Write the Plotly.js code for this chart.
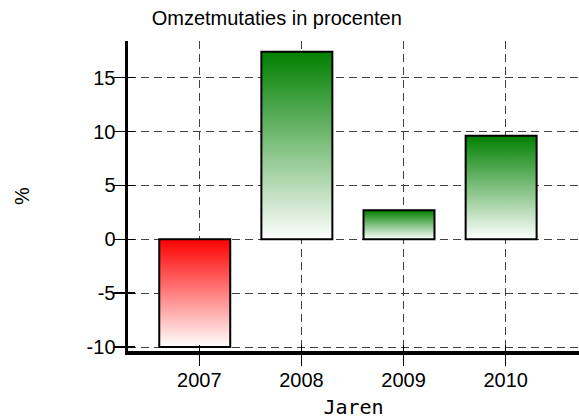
<!DOCTYPE html>
<html>
<head>
<meta charset="utf-8">
<script src="https://cdn.plot.ly/plotly-3.0.1.min.js"></script>
<style>
html,body{margin:0;padding:0;background:#fff;}
#chart{width:579px;height:419px;}
</style>
</head>
<body>
<div id="chart"></div>
<script>
const years = ['2007', '2008', '2009', '2010'];
const changes = [-10.0, 17.42, 2.70, 9.61];
const yTickVals = [-10, -5, 0, 5, 10, 15];
const yTickText = ['-10', '-5', '0', '5', '10', '15'];
const chartTitle = 'Omzetmutaties in procenten';
const xTitle = 'Jaren';
const yTitle = '%';

const topColors = changes.map(v => v < 0 ? '#ff0000' : '#008000');
const xIdx = years.map((_, i) => i);

const trace = {
  type: 'bar',
  x: xIdx,
  y: changes,
  width: 0.695,
  offset: -0.392,
  marker: {color: topColors, line: {color: '#000', width: 2}},
  hoverinfo: 'skip'
};
// helper (empty) trace so the overlay axes carrying the inner tick halves exist
const overlay = {type: 'scatter', x: [], y: [], xaxis: 'x2', yaxis: 'y2', hoverinfo: 'skip'};

const xRange = [-0.698, 3.718];
const yRange = [-10.37, 18.41];
const dash = '8px,5px';

const layout = {
  width: 579, height: 419,
  margin: {l: 128, r: 0, t: 41, b: 68},
  paper_bgcolor: '#fff', plot_bgcolor: '#fff',
  font: {family: 'Liberation Sans, Arial, sans-serif', size: 20, color: '#000'},
  showlegend: false,
  title: {text: chartTitle, x: 0.478, xanchor: 'center', y: 0.957, yanchor: 'middle',
          font: {size: 20, color: '#000'}},
  xaxis: {
    range: xRange,
    tickmode: 'array', tickvals: xIdx, ticktext: years,
    ticks: 'outside', ticklen: 11, tickwidth: 1.5, tickcolor: '#000',
    ticklabelstandoff: -3,
    showline: true, linewidth: 3.5, linecolor: '#000',
    showgrid: true, gridcolor: '#404040', gridwidth: 1, griddash: dash,
    zeroline: false, fixedrange: true,
    title: {text: xTitle, font: {family: 'DejaVu Sans Mono, monospace', size: 20}, standoff: 13}
  },
  yaxis: {
    range: yRange,
    tickmode: 'array', tickvals: yTickVals, ticktext: yTickText,
    ticks: 'outside', ticklen: 11, tickwidth: 1.5, tickcolor: '#000',
    ticklabelstandoff: -6,
    showline: true, linewidth: 3.5, linecolor: '#000',
    showgrid: true, gridcolor: '#404040', gridwidth: 1, griddash: dash,
    zeroline: false, fixedrange: true,
    title: {text: yTitle, font: {size: 20}, standoff: 52}
  },
  xaxis2: {
    range: xRange, overlaying: 'x', anchor: 'y2',
    tickmode: 'array', tickvals: xIdx, showticklabels: false,
    ticks: 'inside', ticklen: 6, tickwidth: 1.5, tickcolor: '#000',
    showline: false, showgrid: false, zeroline: false, fixedrange: true
  },
  yaxis2: {
    range: yRange, overlaying: 'y', anchor: 'x2',
    tickmode: 'array', tickvals: yTickVals, showticklabels: false,
    ticks: 'inside', ticklen: 7, tickwidth: 1.5, tickcolor: '#000',
    showline: false, showgrid: false, zeroline: false, fixedrange: true
  }
};

function applyGradients(gd) {
  const svg = gd.querySelector('svg.main-svg');
  const ns = 'http://www.w3.org/2000/svg';
  let defs = svg.querySelector('defs');
  if (!defs) { defs = document.createElementNS(ns, 'defs'); svg.insertBefore(defs, svg.firstChild); }
  const made = {};
  topColors.forEach(c => {
    const id = 'grad' + c.replace('#', '');
    if (made[id]) return;
    made[id] = true;
    const g = document.createElementNS(ns, 'linearGradient');
    g.setAttribute('id', id);
    g.setAttribute('x1', '0'); g.setAttribute('y1', '0');
    g.setAttribute('x2', '0'); g.setAttribute('y2', '1');
    const s1 = document.createElementNS(ns, 'stop');
    s1.setAttribute('offset', '0'); s1.setAttribute('stop-color', c);
    const s2 = document.createElementNS(ns, 'stop');
    s2.setAttribute('offset', '1'); s2.setAttribute('stop-color', '#ffffff');
    g.appendChild(s1); g.appendChild(s2);
    defs.appendChild(g);
  });
  const paths = gd.querySelectorAll('.barlayer .point path');
  paths.forEach((p, i) => {
    p.style.fill = 'url(#grad' + topColors[i].replace('#', '') + ')';
    p.style.fillOpacity = 1;
  });
}

Plotly.newPlot('chart', [trace, overlay], layout, {displayModeBar: false, staticPlot: true})
  .then(gd => applyGradients(gd));
</script>
</body>
</html>
